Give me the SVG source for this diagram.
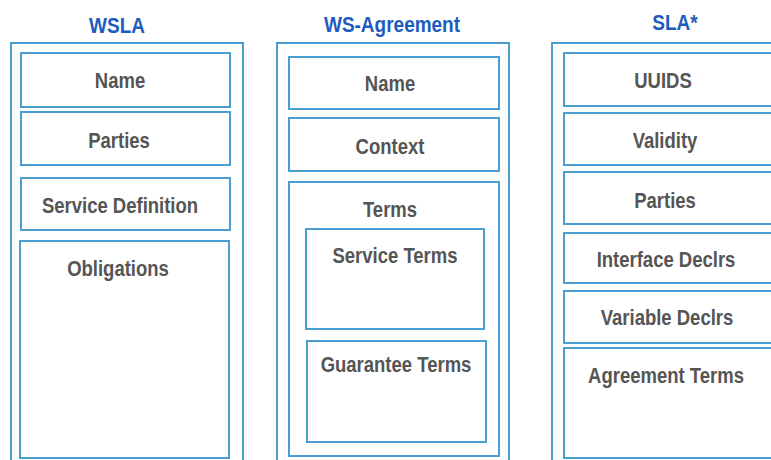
<svg xmlns="http://www.w3.org/2000/svg" width="771" height="460" viewBox="0 0 771 460">
<style>
.hd{font-family:"Liberation Sans",Arial,sans-serif;font-weight:bold;font-size:19px;fill:#1d5cbc;text-anchor:middle}
.lb{font-family:"Liberation Sans",Arial,sans-serif;font-weight:bold;font-size:18.5px;fill:#555;text-anchor:middle}
.ob{fill:#fff;stroke:#4a9fd0;stroke-width:2}
.ib{fill:#fff;stroke:#4a9fd0;stroke-width:2}
</style>
<rect width="771" height="460" fill="#fff"/>
<g id="wsla">
<text class="hd" transform="translate(117 33) scale(1 1.2)">WSLA</text>
<rect class="ob" x="11" y="43" width="232" height="430"/>
<g id="wsla-name"><rect class="ib" x="21" y="53" width="209" height="54"/><text class="lb" transform="translate(120 88) scale(1 1.2)">Name</text></g>
<g id="wsla-parties"><rect class="ib" x="21" y="112" width="209" height="53"/><text class="lb" transform="translate(119 148) scale(1 1.2)">Parties</text></g>
<g id="wsla-servdef"><rect class="ib" x="21" y="178" width="209" height="52"/><text class="lb" transform="translate(120 213) scale(1 1.2)">Service Definition</text></g>
<g id="wsla-oblig"><rect class="ib" x="20" y="241" width="209" height="217"/><text class="lb" transform="translate(118 276) scale(1 1.2)">Obligations</text></g>
</g>
<g id="wsag">
<text class="hd" transform="translate(392 32) scale(1 1.2)">WS-Agreement</text>
<rect class="ob" x="277" y="43" width="232" height="430"/>
<g id="wsag-name"><rect class="ib" x="289" y="57" width="210" height="52"/><text class="lb" transform="translate(390 91) scale(1 1.2)">Name</text></g>
<g id="wsag-context"><rect class="ib" x="289" y="118" width="210" height="53"/><text class="lb" transform="translate(390 154) scale(1 1.2)">Context</text></g>
<g id="wsag-terms"><rect class="ib" x="289" y="182" width="210" height="274"/><text class="lb" transform="translate(390 217) scale(1 1.2)">Terms</text>
<g id="wsag-service"><rect class="ib" x="306" y="229" width="178" height="100"/><text class="lb" transform="translate(395 263) scale(1 1.2)">Service Terms</text></g>
<g id="wsag-guar"><rect class="ib" x="307" y="341" width="179" height="101"/><text class="lb" transform="translate(396 372) scale(1 1.2)">Guarantee Terms</text></g>
</g>
</g>
<g id="sla">
<text class="hd" transform="translate(675 30) scale(1 1.2)">SLA*</text>
<rect class="ob" x="552" y="43" width="240" height="430"/>
<g id="sla-uuids"><rect class="ib" x="564" y="53" width="220" height="53"/><text class="lb" transform="translate(663 88) scale(1 1.2)">UUIDS</text></g>
<g id="sla-validity"><rect class="ib" x="564" y="113" width="220" height="52"/><text class="lb" transform="translate(665 148) scale(1 1.2)">Validity</text></g>
<g id="sla-parties"><rect class="ib" x="564" y="172" width="220" height="52"/><text class="lb" transform="translate(665 208) scale(1 1.2)">Parties</text></g>
<g id="sla-iface"><rect class="ib" x="564" y="233" width="220" height="50"/><text class="lb" transform="translate(666 267) scale(1 1.2)">Interface Declrs</text></g>
<g id="sla-var"><rect class="ib" x="564" y="291" width="220" height="52"/><text class="lb" transform="translate(667 325) scale(1 1.2)">Variable Declrs</text></g>
<g id="sla-agr"><rect class="ib" x="564" y="348" width="220" height="110"/><text class="lb" transform="translate(666 383) scale(1 1.2)">Agreement Terms</text></g>
</g>
<g id="connectors"></g>
</svg>
